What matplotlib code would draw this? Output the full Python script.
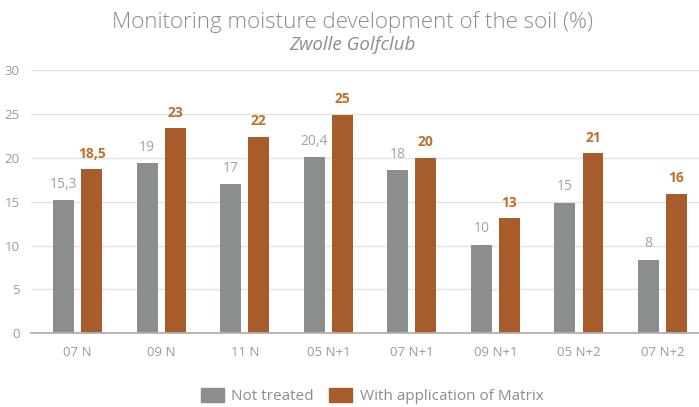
import matplotlib
matplotlib.use("Agg")
import matplotlib.pyplot as plt
import numpy as np
from matplotlib.patches import Patch

categories = ["07 N", "09 N", "11 N", "05 N+1", "07 N+1", "09 N+1", "05 N+2", "07 N+2"]
not_treated = [15.2, 19.4, 17.0, 20.1, 18.6, 10.1, 14.9, 8.4]
matrix = [18.7, 23.4, 22.4, 24.9, 20.0, 13.1, 20.5, 15.9]
not_treated_labels = ["15,3", "19", "17", "20,4", "18", "10", "15", "8"]
matrix_labels = ["18,5", "23", "22", "25", "20", "13", "21", "16"]
yticks = [0, 5, 10, 15, 20, 25, 30]

FONT = ["Open Sans", "DejaVu Sans"]
plt.rcParams['font.family'] = FONT

gray = "#8b8e8f"
orange = "#a65c2b"
gray_txt = "#a3a3a3"
orange_txt = "#c0702a"

fig = plt.figure(figsize=(6.99, 4.07), dpi=100)
W, H = 699, 407
ax = fig.add_axes([30.7 / W, 1 - 333.3 / H, (699 - 30.7) / W, (333.3 - 70) / H])

x = np.arange(len(categories))
bw = 0.25
off = 0.168
ax.bar(x - off, not_treated, bw, color=gray, zorder=3)
ax.bar(x + off, matrix, bw, color=orange, zorder=3)

for xi, v, lab in zip(x, not_treated, not_treated_labels):
    ax.annotate(lab, (xi - off, v), xytext=(0, 6), textcoords="offset points",
                ha="center", va="bottom", fontsize=10, color=gray_txt)
for xi, v, lab in zip(x, matrix, matrix_labels):
    ax.annotate(lab, (xi + off, v), xytext=(0, 6), textcoords="offset points",
                ha="center", va="bottom", fontsize=10, color=orange_txt, fontweight="bold")

ax.set_xlim(-0.563, 7.437)
ax.set_ylim(0, 30)
ax.set_yticks(yticks)
ax.set_xticks(x)
ax.set_xticklabels(categories)
ax.tick_params(axis="both", length=0, labelsize=9.5, colors="#9a9a9a")
ax.tick_params(axis="y", pad=8)
ax.tick_params(axis="x", pad=9)
ax.grid(axis="y", color="#e2e2e2", linewidth=1, zorder=0)
for s in ["top", "right", "left"]:
    ax.spines[s].set_visible(False)
ax.spines["bottom"].set_color("#b0b0b0")
ax.spines["bottom"].set_linewidth(1.3)
ax.spines["bottom"].set_zorder(4)

fig.text(352 / W, 1 - 22 / H, "Monitoring moisture development of the soil (%)",
         ha="center", va="center", fontsize=16, color="#8c8c8c", fontweight="light")
fig.text(352 / W, 1 - 45 / H, "Zwolle Golfclub", ha="center", va="center",
         fontsize=13.5, color="#8c8c8c", style="italic")

handles = [Patch(color=gray, label="Not treated"), Patch(color=orange, label="With application of Matrix")]
leg = fig.legend(handles=handles, loc="center", bbox_to_anchor=(372 / W, 1 - 396 / H), ncol=2,
                 frameon=False, fontsize=11, handlelength=1.5, handleheight=1.0,
                 columnspacing=1.0, handletextpad=0.5)
for t in leg.get_texts():
    t.set_color("#8c8c8c")

fig.savefig("out.png", dpi=100)
